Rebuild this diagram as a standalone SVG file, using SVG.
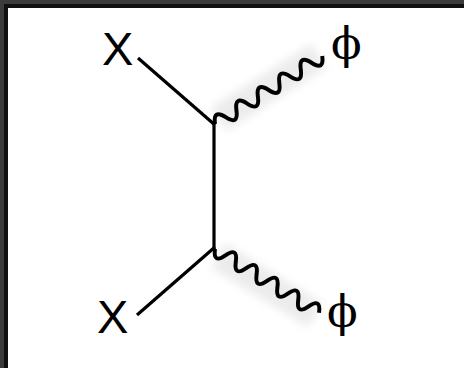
<svg xmlns="http://www.w3.org/2000/svg" width="464" height="368" viewBox="0 0 464 368">
<style>
.line{stroke:#000;stroke-width:3.2;fill:none;stroke-linecap:butt}
.wave{stroke:#000;stroke-width:4;fill:none;stroke-linejoin:round}
.halo{fill:#cfcfcf;opacity:0.4}
.lx{font-family:"Liberation Sans",Arial,sans-serif;font-size:47px;fill:#000}
.lp{font-family:"DejaVu Serif","Liberation Serif",serif;font-size:45px;fill:#000}
</style>
<defs>
<filter id="blur" filterUnits="userSpaceOnUse" x="-50" y="-50" width="250" height="100"><feGaussianBlur stdDeviation="4"/></filter>
</defs>
<rect x="0" y="0" width="464" height="368" fill="#fff"/>
<rect x="0" y="0" width="464" height="8" fill="#111"/>
<rect x="0" y="0" width="8" height="368" fill="#111"/>
<rect x="0" y="0" width="464" height="4" fill="#3c3c3c"/>
<rect x="0" y="0" width="4" height="368" fill="#3c3c3c"/>
<g id="connectors">
<g transform="translate(215,124) rotate(-32.4)">
<rect class="halo" filter="url(#blur)" x="6" y="-16" width="118" height="28"/>
<path class="wave" d="M0 0 q6.35 -14 12.7 0 t12.7 0 t12.7 0 t12.7 0 t12.7 0 t12.7 0 t12.7 0 t12.7 0 t12.7 0 t12.7 0"/>
</g>
<g transform="translate(215,249) rotate(31.5)">
<rect class="halo" filter="url(#blur)" x="6" y="-10" width="114" height="28"/>
<path class="wave" d="M0 0 q6.1 14 12.2 0 t12.2 0 t12.2 0 t12.2 0 t12.2 0 t12.2 0 t12.2 0 t12.2 0 t12.2 0 t12.2 0"/>
</g>
<line class="line" x1="138" y1="58" x2="215" y2="125"/>
<line class="line" x1="214" y1="123" x2="214" y2="249"/>
<line class="line" x1="215" y1="247" x2="137" y2="315"/>
</g>
<g id="x-top"><text class="lx" x="102" y="65">X</text></g>
<g id="x-bottom"><text class="lx" x="97" y="333">X</text></g>
<g id="phi-top"><text class="lp" x="331" y="59">ϕ</text></g>
<g id="phi-bottom"><text class="lp" x="327" y="327">ϕ</text></g>
</svg>
